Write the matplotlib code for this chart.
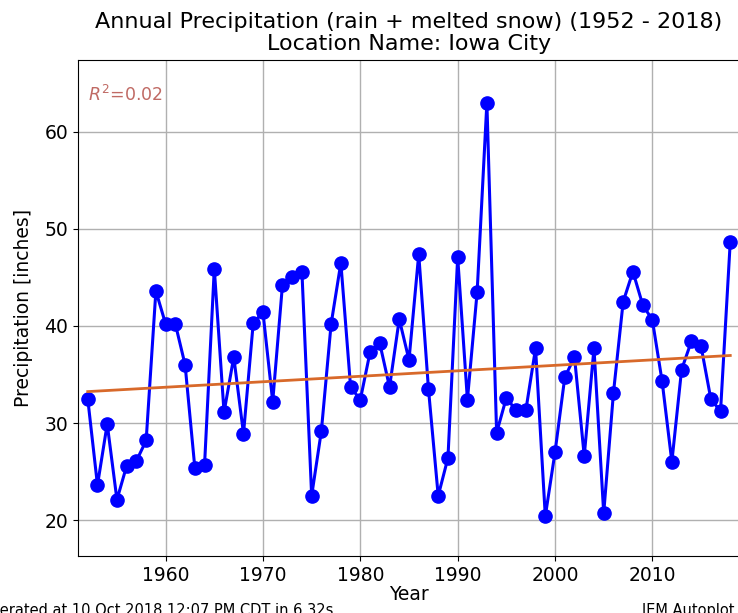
import matplotlib
matplotlib.use("Agg")
import matplotlib.pyplot as plt
import numpy as np

# annual totals, inches
years = list(range(1952, 2019))
precip = [32.5, 23.6, 29.9, 22.1, 25.6, 26.1, 28.2, 43.6, 40.2, 40.2,
          36.0, 25.4, 25.7, 45.9, 31.1, 36.8, 28.9, 40.3, 41.4, 32.2,
          44.2, 45.0, 45.6, 22.5, 29.2, 40.2, 46.5, 33.7, 32.4, 37.3,
          38.2, 33.7, 40.7, 36.5, 47.4, 33.5, 22.5, 26.4, 47.1, 32.4,
          43.5, 63.0, 29.0, 32.6, 31.3, 31.3, 37.7, 20.4, 27.0, 34.7,
          36.8, 26.6, 37.7, 20.7, 33.1, 42.5, 45.6, 42.2, 40.6, 34.3,
          26.0, 35.5, 38.4, 37.9, 32.5, 31.2, 48.7]
yticks = [20, 30, 40, 50, 60]
xticks = [1960, 1970, 1980, 1990, 2000, 2010]

x = np.array(years)
y = np.array(precip)
slope, intercept = np.polyfit(x, y, 1)
fit = slope * x + intercept
r2 = 1 - ((y - fit) ** 2).sum() / ((y - y.mean()) ** 2).sum()

fig = plt.figure(figsize=(7.38, 6.13), dpi=100)
ax = fig.add_axes([78 / 738, 57 / 613, 662 / 738, 496 / 613])

ax.plot(x, y, color="blue", marker="o", markersize=9.5, linewidth=2.2, zorder=3)
ax.plot(x, fit, color="#d8692a", linewidth=2, zorder=4)

ax.text(0.015, 0.95, "$R^2$=%.2f" % r2, transform=ax.transAxes,
        color="#c06a64", fontsize=12.5, va="top")

ax.set_xlim(1951, 2019)
ax.set_ylim(16.3, 67.4)
ax.set_xticks(xticks)
ax.set_yticks(yticks)
ax.tick_params(labelsize=13.5)
ax.grid(True, color="#b0b0b0", linewidth=1)
ax.set_xlabel("Year", fontsize=13.5, labelpad=0)
ax.set_ylabel("Precipitation [inches]", fontsize=13.5, labelpad=8)
ax.set_title("Annual Precipitation (rain + melted snow) (1952 - 2018)\n"
             "Location Name: Iowa City", fontsize=16, linespacing=1.15, pad=7)

fig.text(-0.04, 0.016, "Generated at 10 Oct 2018 12:07 PM CDT in 6.32s",
         fontsize=10.5, va="top", ha="left")
fig.text(0.87, 0.016, "IEM Autoplot App #125", fontsize=10.5, va="top",
         ha="left")

fig.savefig("out.png", dpi=100)
